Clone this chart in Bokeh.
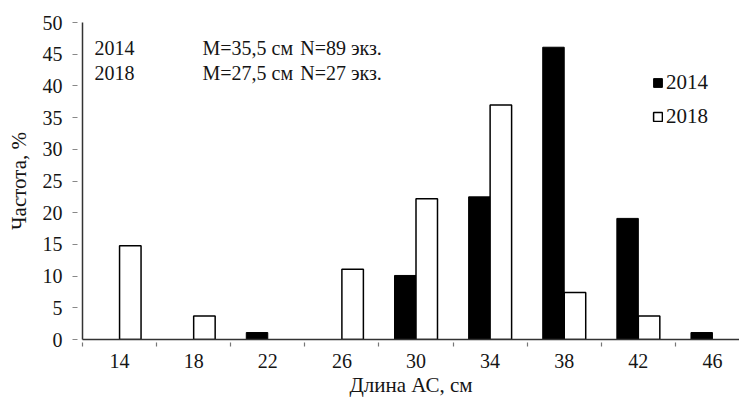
import math
from bokeh.plotting import figure
from bokeh.models import (Range1d, FixedTicker, Legend, LegendItem, Label,
                          ColumnDataSource, LinearAxis)
from bokeh.transform import dodge
from bokeh.embed import file_html
from bokeh.resources import INLINE

# ---- data ----
lengths = [14, 18, 22, 26, 30, 34, 38, 42, 46]
freq_2014 = [0, 0, 1.1, 0, 10.1, 22.5, 46.1, 19.1, 1.1]
freq_2018 = [14.8, 3.7, 0, 11.1, 22.2, 37.0, 7.4, 3.7, 0]
bin_edges = [12, 16, 20, 24, 28, 32, 36, 40, 44]
y_ticks = [0, 5, 10, 15, 20, 25, 30, 35, 40, 45, 50]
years = ["2014", "2018"]
mean_text = ["M=35,5 см", "M=27,5 см"]
count_text = ["N=89 экз.", "N=27 экз."]
x_title = "Длина АС, см"
y_title = "Частота, %"

FONT = "Liberation Serif"
TXT = "#151515"

src14 = ColumnDataSource(dict(x=[l for l, v in zip(lengths, freq_2014) if v > 0],
                              top=[v for v in freq_2014 if v > 0]))
src18 = ColumnDataSource(dict(x=[l for l, v in zip(lengths, freq_2018) if v > 0],
                              top=[v for v in freq_2018 if v > 0]))

p = figure(width=739, height=399, x_range=Range1d(12, 47.46), y_range=Range1d(0, 50),
           output_backend="svg", toolbar_location=None,
           x_axis_type=None, y_axis_type=None,
           min_border_left=82, min_border_right=0, min_border_top=22, min_border_bottom=60)
p.outline_line_color = None
p.background_fill_color = "white"
p.border_fill_color = "white"

r14 = p.vbar(x=dodge("x", -0.58), top="top", width=1.16, bottom=0, source=src14,
             fill_color="black", line_color="black", line_width=1)
r18 = p.vbar(x=dodge("x", 0.58), top="top", width=1.16, bottom=0, source=src18,
             fill_color="white", line_color="black", line_width=1.5)

# x axis
xaxis = LinearAxis(ticker=FixedTicker(ticks=lengths, minor_ticks=bin_edges))
xaxis.axis_line_color = "#333333"
xaxis.axis_line_width = 1.5
xaxis.major_tick_out = 0
xaxis.major_tick_in = 0
xaxis.minor_tick_out = 7
xaxis.minor_tick_in = -3
xaxis.minor_tick_line_color = "#777777"
xaxis.minor_tick_line_width = 1.2
xaxis.major_label_standoff = 7
xaxis.major_label_text_font = FONT
xaxis.major_label_text_font_size = "20px"
xaxis.major_label_text_color = TXT
xaxis.axis_label = x_title
xaxis.axis_label_standoff = 2
xaxis.axis_label_text_font = FONT
xaxis.axis_label_text_font_size = "21px"
xaxis.axis_label_text_font_style = "normal"
xaxis.axis_label_text_color = TXT
p.add_layout(xaxis, "below")

# y axis
yaxis = LinearAxis(ticker=FixedTicker(ticks=y_ticks))
yaxis.axis_line_color = "#333333"
yaxis.axis_line_width = 1.5
yaxis.major_tick_out = 10
yaxis.major_tick_in = -5
yaxis.major_tick_line_color = "#888888"
yaxis.major_tick_line_width = 1.2
yaxis.minor_tick_line_color = None
yaxis.major_label_standoff = 10
yaxis.major_label_text_font = FONT
yaxis.major_label_text_font_size = "20px"
yaxis.major_label_text_color = TXT
yaxis.axis_label = y_title
yaxis.axis_label_standoff = 9
yaxis.axis_label_text_font = FONT
yaxis.axis_label_text_font_size = "21px"
yaxis.axis_label_text_font_style = "normal"
yaxis.axis_label_text_color = TXT
p.add_layout(yaxis, "left")

# annotations
rows_y = [46.05, 42.1]
for yr, m, n, yy in zip(years, mean_text, count_text, rows_y):
    for txt, xx in ((yr, 12.65), (m, 18.48), (n, 23.75)):
        p.add_layout(Label(x=xx, y=yy, text=txt, text_align="left", text_baseline="middle",
                           text_font=FONT, text_font_size="20px", text_color=TXT))

legend = Legend(items=[LegendItem(label=years[0], renderers=[r14]),
                       LegendItem(label=years[1], renderers=[r18])],
                location=(570, 210), glyph_width=11, glyph_height=11,
                label_standoff=3, spacing=9, padding=0, margin=0,
                border_line_color=None, background_fill_alpha=0,
                label_text_font=FONT, label_text_font_size="21px",
                label_text_color=TXT, label_height=22)
p.add_layout(legend)

p.xgrid.visible = False
p.ygrid.visible = False

open("out.html", "w").write(file_html(p, INLINE))
